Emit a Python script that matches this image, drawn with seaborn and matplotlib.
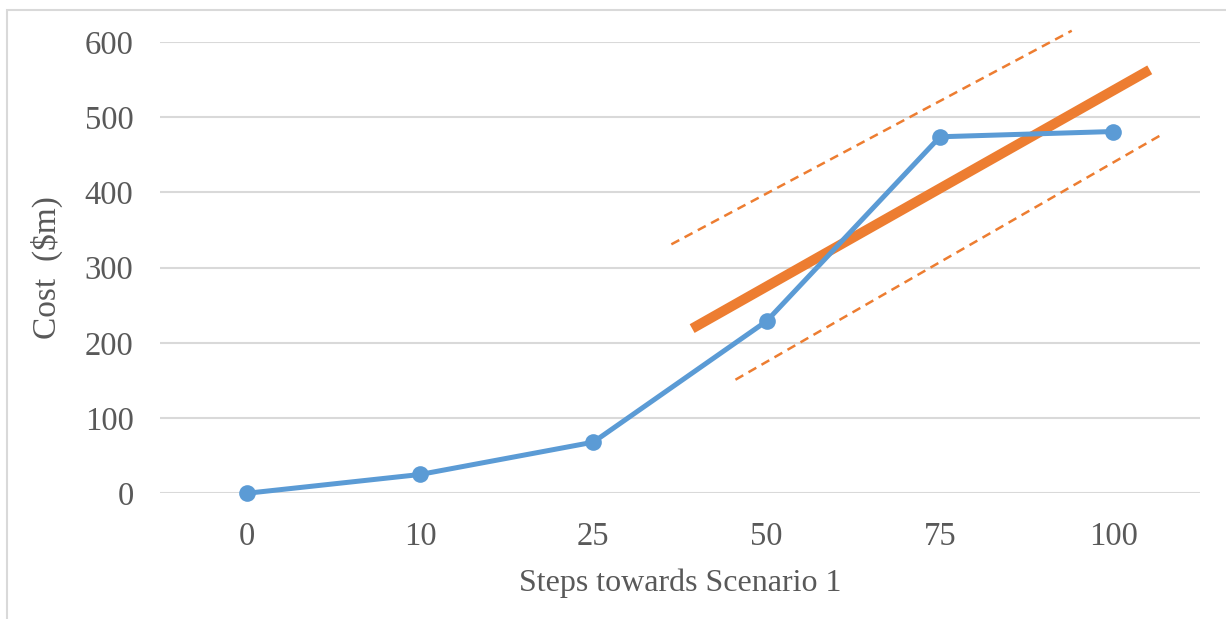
import numpy as np
import pandas as pd
import matplotlib
matplotlib.use("Agg")
import matplotlib.pyplot as plt
from matplotlib.patches import Rectangle
import seaborn as sns

# data
steps = ["0", "10", "25", "50", "75", "100"]
cost = [0, 25, 68, 229, 474, 481]
# trend line and its dashed band (x in category index units)
trend_x = [2.57, 5.21]
trend_y = [219, 563]
upper_x = [2.45, 4.76]
upper_y = [331, 615]
lower_x = [2.82, 5.28]
lower_y = [151, 477]

sns.set_theme(style="white")
plt.rcParams["font.family"] = ["Liberation Serif", "DejaVu Serif"]

blue = "#5B9BD5"
orange = "#ED7D31"
txt = "#595959"
grid = "#D9D9D9"

fig = plt.figure(figsize=(12.26, 6.19), dpi=100)
ax = fig.add_axes([160 / 1226, 1 - 493.3 / 619, 1040 / 1226, 451.3 / 619])

df = pd.DataFrame({"pos": np.arange(len(steps)), "cost": cost})
sns.lineplot(data=df, x="pos", y="cost", ax=ax, color=blue, linewidth=3.6,
             marker="o", markersize=12, markeredgewidth=0, clip_on=False, zorder=4)

sns.lineplot(x=trend_x, y=trend_y, ax=ax, color=orange, linewidth=7.2,
             solid_capstyle="butt", zorder=3)
sns.lineplot(x=upper_x, y=upper_y, ax=ax, color=orange, linewidth=1.8,
             linestyle=(0, (3.6, 2.4)), clip_on=False, zorder=3)
sns.lineplot(x=lower_x, y=lower_y, ax=ax, color=orange, linewidth=1.8,
             linestyle=(0, (3.6, 2.4)), clip_on=False, zorder=3)

ax.set_xlim(-0.5, len(steps) - 0.5)
ax.set_ylim(0, 600)
ax.set_xticks(range(len(steps)))
ax.set_xticklabels(steps)
ax.set_yticks(range(0, 601, 100))
ax.yaxis.grid(True, color=grid, linewidth=1.5)
ax.xaxis.grid(False)
ax.set_axisbelow(True)
for s in ax.spines.values():
    s.set_visible(False)
ax.tick_params(axis="both", length=0, labelsize=23.5, colors=txt)
ax.tick_params(axis="y", pad=19)
ax.tick_params(axis="x", pad=20)

ax.set_xlabel("Steps towards Scenario 1", fontsize=23, color=txt, labelpad=12)
ax.set_ylabel("Cost  ($m)", fontsize=24, color=txt, labelpad=16)

# light outer frame of the chart box
fig.patches.append(Rectangle((7 / 1226, -0.1), 1.2, 1.1 - 10 / 619,
                             transform=fig.transFigure, fill=False,
                             edgecolor=grid, linewidth=1.5))

plt.savefig("out.png", dpi=100)
